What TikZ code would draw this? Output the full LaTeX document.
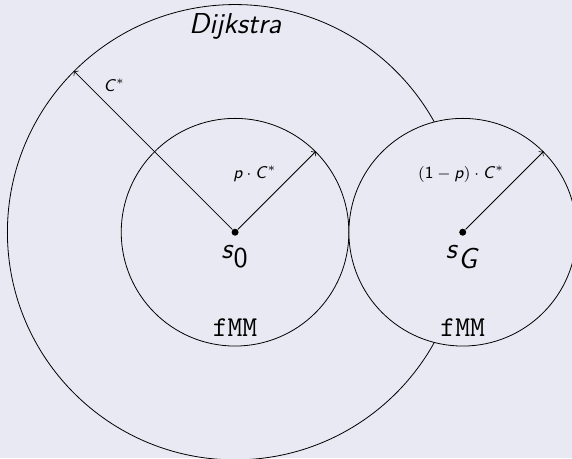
\documentclass[tikz,border=0pt]{standalone}
\usepackage{tikz}
\usetikzlibrary{positioning}
\definecolor{slidebg}{RGB}{233,233,243}
\newcommand{\msf}[1]{\textsf{\textit{#1}}}

\begin{document}
\begin{tikzpicture}[
  region/.style={circle, draw, inner sep=0pt, fill=slidebg},
  vertex/.style={circle, fill, inner sep=0pt, minimum size=3.5pt},
  reach/.style={->},
  cost/.style={font=\fontsize{8.5}{10}\selectfont, inner sep=2pt},
  bigtag/.style={font=\Large},
]
  % Background
  \fill[slidebg] (-4.13,-3.97) rectangle (5.92,4.08);
  \useasboundingbox (-4.13,-3.97) rectangle (5.92,4.08);

  % Search regions
  \node[region, minimum size=8cm] (dijk) at (0,0) {};
  \node[region, minimum size=4cm] (fwd) at (0,0) {};
  \node[region, minimum size=4cm] (bwd) at (4,0) {};

  % Start and goal
  \node[vertex] (s0) at (fwd.center) {};
  \node[vertex] (sG) at (bwd.center) {};
  \node[bigtag, below=1pt of s0] (s0lbl) {$\msf{s}_{\textsf{0}}$};
  \node[bigtag, below=1pt of sG] (sGlbl) {$\msf{s}_{\msf{G}}$};

  % Region names
  \node[bigtag, font=\Large\sffamily\itshape] (dijklbl) at (0,3.62) {Dijkstra};
  \node[bigtag, font=\Large\ttfamily, above=0.05cm of fwd.south] (fwdlbl) {fMM};
  \node[bigtag, font=\Large\ttfamily, above=0.05cm of bwd.south] (bwdlbl) {fMM};

  % Radii
  \draw[reach] (s0) -- (dijk.135) node[cost, pos=0.84, above right] (c1) {$\msf{C}^*$};
  \draw[reach] (s0) -- (fwd.45) node[cost, pos=0.55, above left] (c2) {$\msf{p}\cdot\msf{C}^*$};
  \draw[reach] (sG) -- (bwd.45) node[cost, pos=0.55, above left] (c3) {$(\textsf{1}-\msf{p})\cdot\msf{C}^*$};
\end{tikzpicture}
\end{document}
